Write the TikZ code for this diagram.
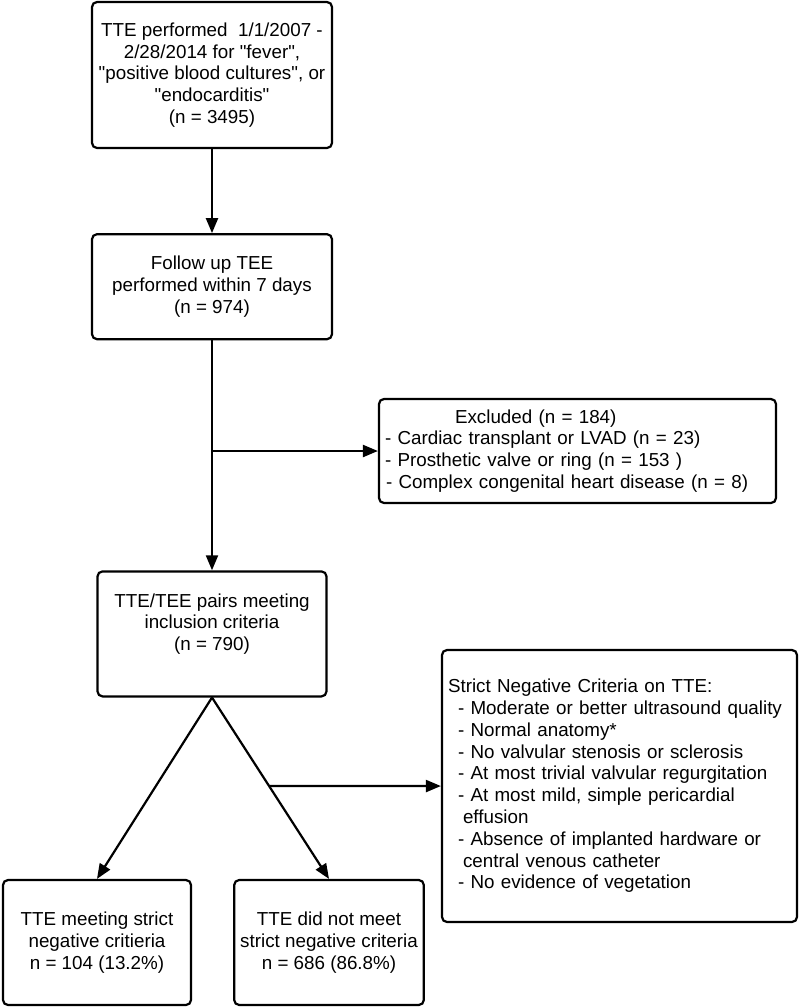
\documentclass[tikz,border=0pt]{standalone}
\usepackage{fontspec}
\setmainfont{Liberation Sans}[Ligatures=TeXOff]
\usepackage{tikz}
\usetikzlibrary{positioning,arrows.meta}

\begin{document}
\begin{tikzpicture}[every node/.style={align=center},
    stage/.style={draw, line width=2.2pt, rounded corners=5pt, inner sep=6pt, font=\fontsize{18.8}{21.8}\selectfont},
    >={Triangle[length=15pt,width=12pt]}]
      \useasboundingbox (0,0) rectangle (800pt,-1007pt);
      % Nodes
      \node[stage, minimum width=240pt, minimum height=146pt] (src) at (212pt,-75pt) {TTE performed \ 1/1/2007 -\\2/28/2014 for "fever",\\"positive blood cultures", or\\"endocarditis"\\(n = 3495)};
      \node[stage, below=84pt of src, minimum width=240pt, minimum height=105pt] (tee) {Follow up TEE\\performed within 7 days\\(n = 974)};
      \node[stage, below=230pt of tee, minimum width=229pt, minimum height=125pt] (incl) {TTE/TEE pairs meeting\\inclusion criteria\\(n = 790)\\[2pt]};
      \node[stage, text width=385pt, align=left, minimum height=104pt] (excl) at (577.5pt,-451pt) {\hspace*{70pt}Excluded (n = 184)\\- Cardiac transplant or LVAD (n = 23)\\- Prosthetic valve or ring (n = 153 )\\\hspace*{1pt}- Complex congenital heart disease (n = 8)};
      \node[stage, minimum width=188pt, minimum height=125pt] (neg) at (97pt,-942.5pt) {TTE meeting strict\\negative critieria\\n = 104 (13.2\%)};
      \node[stage, right=41pt of neg, minimum width=188pt, minimum height=125pt] (pos) {TTE did not meet\\strict negative criteria\\n = 686 (86.8\%)};
      \node[stage, text width=343pt, align=left, minimum height=272pt] (crit) at (619.5pt,-786pt) {Strict Negative Criteria on TTE:\\
        \hspace*{10pt}- Moderate or better ultrasound quality\\
        \hspace*{10pt}- Normal anatomy*\\
        \hspace*{10pt}- No valvular stenosis or sclerosis\\
        \hspace*{10pt}- At most trivial valvular regurgitation\\
        \hspace*{10pt}- At most mild, simple pericardial\\
        \hspace*{15pt}effusion\\
        \hspace*{10pt}- Absence of implanted hardware or\\
        \hspace*{15pt}central venous catheter\\
        \hspace*{10pt}- No evidence of vegetation};
      \coordinate (split) at (tee.south |- excl.west);
      \coordinate (branch) at (intersection of incl.south--pos.north and crit.west--crit.east);
      % Arrows
      \draw[line width=2.2pt, ->] (src) -- (tee);
      \draw[line width=2.2pt, ->] (tee) -- (incl);
      \draw[line width=2.2pt, ->] (split) -- (excl);
      \draw[line width=2.2pt, ->] (incl.south) -- (neg.north);
      \draw[line width=2.2pt, ->] (incl.south) -- (pos.north);
      \draw[line width=2.2pt, ->] (branch) -- (crit);
    \end{tikzpicture}
\end{document}
